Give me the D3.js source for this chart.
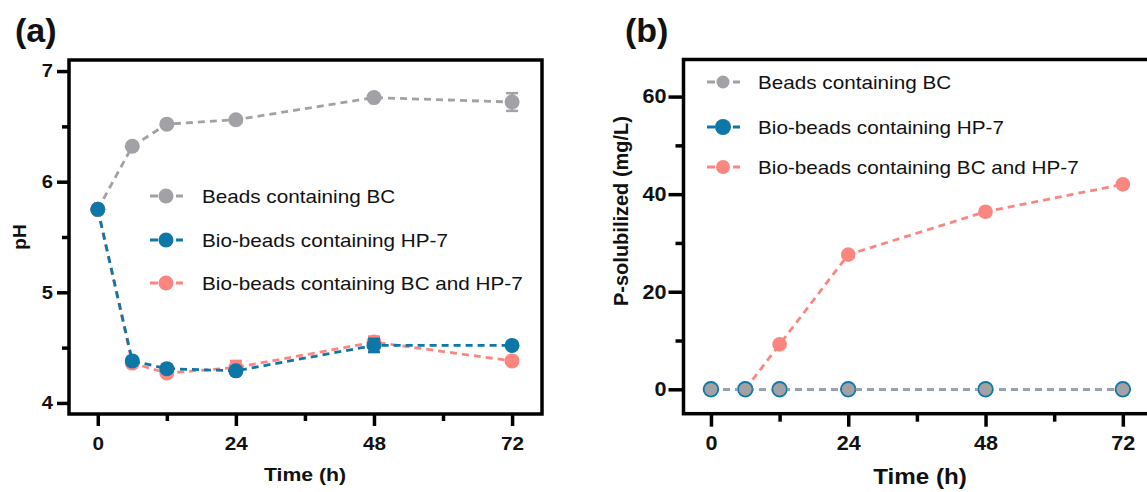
<!DOCTYPE html>
<html>
<head>
<meta charset="utf-8">
<script src="https://cdn.jsdelivr.net/npm/d3@7"></script>
<style>
  html, body { margin: 0; padding: 0; background: #fff; }
  svg { display: block; font-family: "Liberation Sans", Arial, sans-serif; }
</style>
</head>
<body>
<svg id="chart" width="1147" height="492"></svg>
<script>
// Sampling times (h)
const timesH = [0, 6, 12, 24, 48, 72];

// Panel (a): pH of the medium
const phBeadsBC     = [5.75, 6.32, 6.52, 6.56, 6.76, 6.72];
const phBeadsBCErr  = [0, 0.02, 0.02, 0.02, 0.02, 0.08];
const phHP7         = [5.75, 4.38, 4.31, 4.29, 4.52, 4.52];
const phHP7Err      = [0, 0.02, 0.02, 0.02, 0.06, 0.02];
const phBCHP7       = [5.75, 4.36, 4.27, 4.32, 4.55, 4.38];
const phBCHP7Err    = [0, 0.02, 0.02, 0.06, 0.05, 0.02];

// Panel (b): solubilized phosphorus (mg/L)
const pBeadsBC = [0, 0, 0, 0, 0, 0];
const pHP7     = [0, 0, 0, 0, 0, 0];
const pBCHP7   = [0, 0, 9.2, 27.6, 36.4, 42.0];

const seriesNames = ["Beads containing BC", "Bio-beads containing HP-7", "Bio-beads containing BC and HP-7"];
const xTicksMajor = [0, 24, 48, 72];
const xTicksMinor = [12, 36, 60];
const phTicksMajor = [4, 5, 6, 7];
const phTicksMinor = [4.5, 5.5, 6.5];
const pTicksMajor = [0, 20, 40, 60];
const pTicksMinor = [10, 30, 50];

const GRAY = "#a2a2a6", BLUE = "#0f76a8", PINK = "#fb8680";
const DASH = "7,5";

const svg = d3.select("#chart");

// text helper with a slight horizontal stretch
function label(g, x, y, txt, opts) {
  const o = Object.assign({size: 18, weight: "normal", anchor: "start", sx: 1.15, rotate: 0}, opts || {});
  const t = g.append("text")
    .attr("transform", `translate(${x},${y}) rotate(${o.rotate}) scale(${o.sx},1)`)
    .attr("font-size", o.size)
    .attr("font-weight", o.weight)
    .attr("text-anchor", o.anchor)
    .attr("fill", "#111")
    .text(txt);
  return t;
}

function styleAxis(sel, sx, size) {
  sel.select(".domain").remove();
  sel.selectAll(".tick line").attr("stroke", "#000").attr("stroke-width", 3.5);
  sel.selectAll(".tick text")
    .attr("font-size", size)
    .attr("font-weight", "bold")
    .attr("fill", "#111")
    .attr("font-family", "'Liberation Sans', Arial, sans-serif")
    .each(function() {
      const t = d3.select(this);
      const x = +t.attr("x") || 0;
      t.attr("x", 0).attr("transform", `translate(${x},0) scale(${sx},1)`);
    });
}

function drawSeries(g, x, y, vals, errs, color, r, opt) {
  const o = Object.assign({stroke: null, strokeW: 0, lineFrom: 0}, opt || {});
  const pts = timesH.map((t, i) => ({t, v: vals[i], e: errs ? errs[i] : 0})).slice(o.lineFrom);
  const line = d3.line().x(d => x(d.t)).y(d => y(d.v));
  g.append("path").datum(pts)
    .attr("d", line).attr("fill", "none")
    .attr("stroke", color).attr("stroke-width", 2.8)
    .attr("stroke-dasharray", DASH);
  const all = timesH.map((t, i) => ({t, v: vals[i], e: errs ? errs[i] : 0}));
  // error bars
  all.filter(d => d.e > 0).forEach(d => {
    const eg = g.append("g").attr("stroke", color).attr("stroke-width", 2.5);
    eg.append("line").attr("x1", x(d.t)).attr("x2", x(d.t)).attr("y1", y(d.v - d.e)).attr("y2", y(d.v + d.e));
    [d.v - d.e, d.v + d.e].forEach(v => {
      eg.append("line").attr("x1", x(d.t) - 6).attr("x2", x(d.t) + 6).attr("y1", y(v)).attr("y2", y(v));
    });
  });
  g.selectAll(null).data(all).enter().append("circle")
    .attr("cx", d => x(d.t)).attr("cy", d => y(d.v)).attr("r", r)
    .attr("fill", color)
    .attr("stroke", o.stroke || "none")
    .attr("stroke-width", o.strokeW);
}

function legend(g, x0, textX, rows, items) {
  items.forEach((it, i) => {
    const yy = rows[i];
    g.append("line").attr("x1", x0 - 16).attr("x2", x0 + 17).attr("y1", yy).attr("y2", yy)
      .attr("stroke", it.color).attr("stroke-width", 2.8).attr("stroke-dasharray", "8,5");
    g.append("circle").attr("cx", x0).attr("cy", yy).attr("r", it.r).attr("fill", it.color);
    label(g, textX, yy + 6.5, it.name, {size: 18, sx: 1.15});
  });
}

// ---------- Panel (a): pH ----------
{
  const g = svg.append("g");
  const x = d3.scaleLinear().domain([-5, 77.2]).range([69, 542]);
  const y = d3.scaleLinear().domain([3.9, 7.1]).range([414, 60]);

  // y axis
  const ya = g.append("g").attr("transform", "translate(69,0)")
    .call(d3.axisLeft(y).tickValues(phTicksMajor).tickSize(12).tickPadding(4).tickFormat(d3.format("d")));
  styleAxis(ya, 1.12, 18);
  const ym = g.append("g").attr("transform", "translate(69,0)")
    .call(d3.axisLeft(y).tickValues(phTicksMinor).tickSize(7).tickFormat(""));
  styleAxis(ym, 1, 18);

  // x axis
  const xa = g.append("g").attr("transform", "translate(0,414)")
    .call(d3.axisBottom(x).tickValues(xTicksMajor).tickSize(12).tickPadding(11).tickFormat(d3.format("d")));
  styleAxis(xa, 1.15, 18);
  const xm = g.append("g").attr("transform", "translate(0,414)")
    .call(d3.axisBottom(x).tickValues(xTicksMinor).tickSize(7).tickFormat(""));
  styleAxis(xm, 1, 18);

  g.append("rect").attr("x", 69).attr("y", 60).attr("width", 473).attr("height", 354)
    .attr("fill", "none").attr("stroke", "#000").attr("stroke-width", 3.5);

  drawSeries(g, x, y, phBeadsBC, phBeadsBCErr, GRAY, 7.5);
  drawSeries(g, x, y, phBCHP7, phBCHP7Err, PINK, 7.5);
  drawSeries(g, x, y, phHP7, phHP7Err, BLUE, 7.5);

  legend(g, 166, 202, [196, 240, 283], [
    {name: seriesNames[0], color: GRAY, r: 7.5},
    {name: seriesNames[1], color: BLUE, r: 7.5},
    {name: seriesNames[2], color: PINK, r: 7.5}
  ]);

  label(g, 15, 42, "(a)", {size: 34, weight: "bold", sx: 1.0});
  label(g, 26, 237, "pH", {size: 19, weight: "bold", anchor: "middle", sx: 1.0, rotate: -90});
  label(g, 305, 481, "Time (h)", {size: 18, weight: "bold", anchor: "middle", sx: 1.18});
}

// ---------- Panel (b): P-solubilized ----------
{
  const g = svg.append("g");
  const x = d3.scaleLinear().domain([-4.8, 77.1]).range([683.5, 1152]);
  const y = d3.scaleLinear().domain([-5, 67.6]).range([413.7, 59.5]);

  const ya = g.append("g").attr("transform", "translate(683.5,0)")
    .call(d3.axisLeft(y).tickValues(pTicksMajor).tickSize(15).tickPadding(2).tickFormat(d3.format("d")));
  styleAxis(ya, 1.08, 20);
  const ym = g.append("g").attr("transform", "translate(683.5,0)")
    .call(d3.axisLeft(y).tickValues(pTicksMinor).tickSize(8).tickFormat(""));
  styleAxis(ym, 1, 20);

  const xa = g.append("g").attr("transform", "translate(0,413.7)")
    .call(d3.axisBottom(x).tickValues(xTicksMajor).tickSize(13).tickPadding(9).tickFormat(d3.format("d")));
  styleAxis(xa, 1.08, 20);
  const xm = g.append("g").attr("transform", "translate(0,413.7)")
    .call(d3.axisBottom(x).tickValues(xTicksMinor).tickSize(8).tickFormat(""));
  styleAxis(xm, 1, 20);

  g.append("rect").attr("x", 683.5).attr("y", 59.5).attr("width", 470).attr("height", 354.2)
    .attr("fill", "none").attr("stroke", "#000").attr("stroke-width", 3.5);

  drawSeries(g, x, y, pBCHP7, null, PINK, 7.3, {lineFrom: 1});
  drawSeries(g, x, y, pHP7, null, BLUE, 8.2);
  drawSeries(g, x, y, pBeadsBC, null, GRAY, 7.0, {stroke: BLUE, strokeW: 1.2});

  legend(g, 723, 758, [82, 127, 167], [
    {name: seriesNames[0], color: GRAY, r: 6.5},
    {name: seriesNames[1], color: BLUE, r: 8},
    {name: seriesNames[2], color: PINK, r: 7}
  ]);

  label(g, 625, 42, "(b)", {size: 34, weight: "bold", sx: 1.0});
  label(g, 628, 211, "P-solubilized (mg/L)", {size: 20, weight: "bold", anchor: "middle", sx: 1.0, rotate: -90});
  label(g, 920, 484, "Time (h)", {size: 22, weight: "bold", anchor: "middle", sx: 1.1});
}
</script>
</body>
</html>
